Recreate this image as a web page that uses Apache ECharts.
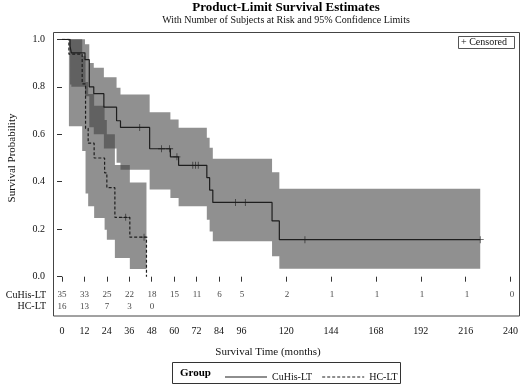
<!DOCTYPE html>
<html><head><meta charset="utf-8">
<script src="https://cdn.jsdelivr.net/npm/echarts@6/dist/echarts.min.js"></script>
<style>html,body{margin:0;padding:0;background:#fff}#c{width:521px;height:386px}</style>
</head><body><div id="c"></div>
<script>
// ---- data ----
const xTicks = [0, 12, 24, 36, 48, 60, 72, 84, 96, 120, 144, 168, 192, 216, 240];
const groups = ['CuHis-LT', 'HC-LT'];

const cuTimes = [0, 4.3, 5.0, 12.3, 14.6, 17.0, 22.4, 29.2, 31.3, 46.9, 58.0, 62.4, 77.5, 79.0, 80.7, 112.4, 116.3];
const cuSurv  = [1.0, 0.971, 0.943, 0.914, 0.800, 0.771, 0.714, 0.657, 0.629, 0.539, 0.505, 0.469, 0.417, 0.365, 0.313, 0.235, 0.156];
const cuLower = [1.0, 0.81, 0.80, 0.76, 0.63, 0.60, 0.54, 0.48, 0.45, 0.367, 0.332, 0.297, 0.24, 0.19, 0.149, 0.086, 0.034];
const cuUpper = [1.0, 1.0, 1.0, 0.979, 0.90, 0.88, 0.84, 0.796, 0.768, 0.693, 0.662, 0.627, 0.585, 0.543, 0.497, 0.44, 0.37];
const cuEnd = 223.8;
const cuCensor = [41.6, 53.3, 57.6, 61.5, 70.0, 71.5, 72.9, 92.8, 98.1, 130.0, 223.8];

const hcTimes = [0, 3.7, 10.8, 12.6, 14.0, 17.2, 22.8, 24.0, 28.3, 36.3, 45.2];
const hcSurv  = [1.0, 0.9375, 0.8125, 0.625, 0.5625, 0.5, 0.4375, 0.375, 0.25, 0.1667, 0.0];
const hcLower = [1.0, 0.634, 0.53, 0.35, 0.297, 0.247, 0.198, 0.156, 0.079, 0.032];
const hcUpper = [1.0, 1.0, 0.93, 0.82, 0.77, 0.72, 0.66, 0.60, 0.47, 0.397];
const hcEnd = 45.2;
const hcCensor = [34.1, 43.9];

const riskTimes = [0, 12, 24, 36, 48, 60, 72, 84, 96, 120, 144, 168, 192, 216, 240];
const cuRisk = [35, 33, 25, 22, 18, 15, 11, 6, 5, 2, 1, 1, 1, 1, 0];
const hcRisk = [16, 13, 7, 3, 0];

// ---- helpers ----
const FONT = 'Liberation Serif';
function survAt(times, surv, t) { let v = surv[0]; for (let i = 0; i < times.length; i++) if (times[i] <= t) v = surv[i]; return v; }
function stepData(times, surv, end) {
  const d = times.map((t, i) => [t, surv[i]]);
  if (end > times[times.length - 1]) d.push([end, surv[surv.length - 1]]);
  return d;
}
function bandPts(times, lower, upper, end, api) {
  const n = lower.length, pts = [];
  const nextT = i => (i + 1 < times.length && i + 1 < n) ? times[i + 1] : end;
  for (let i = 1; i < n; i++) { pts.push(api.coord([times[i], upper[i]])); pts.push(api.coord([nextT(i), upper[i]])); }
  for (let i = n - 1; i >= 1; i--) { pts.push(api.coord([nextT(i), lower[i]])); pts.push(api.coord([times[i], lower[i]])); }
  return pts;
}
const plusSym = 'path://M4,0 h1 v9 h-1 z M0,4 h9 v1 h-9 z';
const solidIcon = 'path://M0,0 h42 v1 h-42 z';
const dashIcon = 'path://M0,0h3v1h-3z M5,0h3v1h-3z M10,0h3v1h-3z M15,0h3v1h-3z M20,0h3v1h-3z M25,0h3v1h-3z M30,0h3v1h-3z M35,0h3v1h-3z M40,0h2v1h-2z';
const lineCol = '#1e1e1e';

const chart = echarts.init(document.getElementById('c'), null, { renderer: 'canvas' });
chart.setOption({
  animation: false,
  textStyle: { fontFamily: FONT },
  grid: [
    { left: 62, right: 9, top: 39.3, bottom: 109.3 },
    { left: 62, right: 9, top: 289.2, height: 23.4 }
  ],
  xAxis: [
    { type: 'value', gridIndex: 0, min: 0, max: 240, position: 'bottom', offset: 39.3,
      axisLine: { show: false },
      axisTick: { show: true, length: 5, customValues: xTicks, lineStyle: { color: '#333' } },
      axisLabel: { customValues: xTicks, fontSize: 10, fontFamily: FONT, color: '#111', margin: 10 },
      splitLine: { show: false } },
    { type: 'value', gridIndex: 1, min: 0, max: 240, show: false }
  ],
  yAxis: [
    { type: 'value', gridIndex: 0, min: 0, max: 1, interval: 0.2, offset: 9,
      axisLine: { show: false },
      axisTick: { show: true, length: 5, lineStyle: { color: '#333' } },
      axisLabel: { fontSize: 10, fontFamily: FONT, color: '#111', margin: 8, formatter: v => v.toFixed(1) },
      splitLine: { show: false } },
    { type: 'category', gridIndex: 1, data: groups, inverse: true, offset: 9,
      axisLine: { show: false }, axisTick: { show: false },
      axisLabel: { interval: 0, fontSize: 10, fontFamily: FONT, color: '#111', margin: 7 } }
  ],
  legend: {
    data: [{ name: groups[0], icon: solidIcon }, { name: groups[1], icon: dashIcon }],
    left: 220, top: 367, itemWidth: 42, itemHeight: 1.2, itemGap: 10,
    textStyle: { fontSize: 10, fontFamily: FONT, color: '#111' }, selectedMode: false,
    itemStyle: { color: lineCol }
  },
  series: [
    { type: 'custom', xAxisIndex: 0, yAxisIndex: 0, data: [0, 1], z: 1, silent: true,
      renderItem: function (params, api) {
        const g = api.value(0);
        const pts = g === 0 ? bandPts(cuTimes, cuLower, cuUpper, cuEnd, api)
                            : bandPts(hcTimes, hcLower, hcUpper, hcEnd, api);
        return { type: 'polygon', shape: { points: pts }, style: { fill: 'rgba(65,65,65,0.585)' } };
      } },
    { name: 'CuHis-LT', type: 'line', step: 'end', symbol: 'none', z: 3,
      data: stepData(cuTimes, cuSurv, cuEnd),
      lineStyle: { color: lineCol, width: 1.2 }, itemStyle: { color: lineCol } },
    { name: 'HC-LT', type: 'line', step: 'end', symbol: 'none', z: 3,
      data: stepData(hcTimes, hcSurv, hcEnd),
      lineStyle: { color: lineCol, width: 1.2, type: [3, 2] }, itemStyle: { color: lineCol } },
    { name: 'censCu', type: 'scatter', symbol: plusSym, symbolSize: 7, z: 4,
      data: cuCensor.map(t => [t, survAt(cuTimes, cuSurv, t)]), itemStyle: { color: lineCol } },
    { name: 'censHc', type: 'scatter', symbol: plusSym, symbolSize: 7, z: 4,
      data: hcCensor.map(t => [t, survAt(hcTimes, hcSurv, t)]), itemStyle: { color: lineCol } },
    { name: 'riskCu', type: 'scatter', xAxisIndex: 1, yAxisIndex: 1, symbolSize: 1, clip: false,
      itemStyle: { color: 'rgba(0,0,0,0)' },
      data: riskTimes.slice(0, cuRisk.length).map((t, i) => [t, groups[0], cuRisk[i]]),
      label: { show: true, position: 'inside', formatter: p => String(p.value[2]), fontSize: 9, fontFamily: FONT, color: '#111' } },
    { name: 'riskHc', type: 'scatter', xAxisIndex: 1, yAxisIndex: 1, symbolSize: 1, clip: false,
      itemStyle: { color: 'rgba(0,0,0,0)' },
      data: riskTimes.slice(0, hcRisk.length).map((t, i) => [t, groups[1], hcRisk[i]]),
      label: { show: true, position: 'inside', formatter: p => String(p.value[2]), fontSize: 9, fontFamily: FONT, color: '#111' } }
  ],
  graphic: [
    { type: 'rect', shape: { x: 53.5, y: 32.5, width: 466, height: 283.5 }, style: { fill: 'none', stroke: '#444', lineWidth: 1 }, z: 10 },
    { type: 'text', x: 286, y: 1, style: { text: 'Product-Limit Survival Estimates', fontSize: 13, fontWeight: 'bold', fontFamily: FONT, fill: '#000', align: 'center', verticalAlign: 'top' } },
    { type: 'text', x: 286, y: 15.5, style: { text: 'With Number of Subjects at Risk and 95% Confidence Limits', fontSize: 10, fontFamily: FONT, fill: '#111', align: 'center', verticalAlign: 'top' } },
    { type: 'text', x: 12, y: 158, rotation: Math.PI / 2, style: { text: 'Survival Probability', font: '11px "Liberation Serif"', fill: '#111', align: 'center', verticalAlign: 'middle' } },
    { type: 'text', x: 268, y: 352, style: { text: 'Survival Time (months)', font: '11px "Liberation Serif"', fill: '#111', align: 'center', verticalAlign: 'middle' } },
    { type: 'rect', shape: { x: 458.5, y: 36.5, width: 56, height: 12 }, style: { fill: '#fff', stroke: '#555', lineWidth: 1 }, z: 10 },
    { type: 'text', x: 461, y: 42.5, z: 11, style: { text: '+ Censored', font: '10px "Liberation Serif"', fill: '#111', verticalAlign: 'middle' } },
    { type: 'rect', shape: { x: 172.5, y: 362.5, width: 228, height: 21 }, style: { fill: 'none', stroke: '#333', lineWidth: 1 } },
    { type: 'text', x: 180, y: 373, style: { text: 'Group', font: 'bold 11px "Liberation Serif"', fill: '#000', verticalAlign: 'middle' } }
  ]
});
</script></body></html>
